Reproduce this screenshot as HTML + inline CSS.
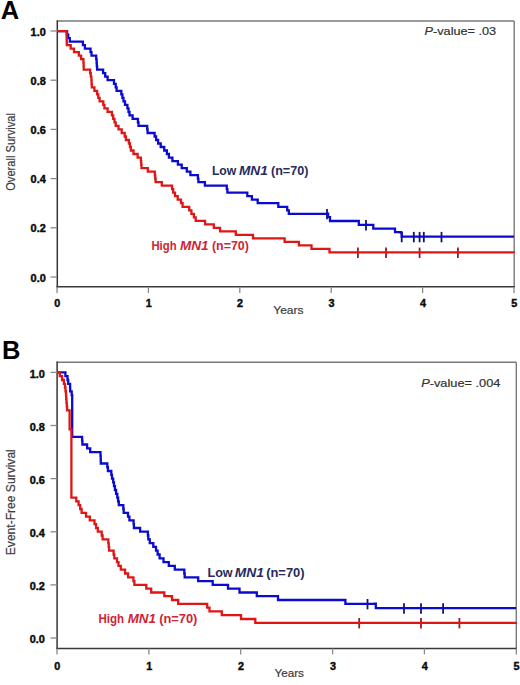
<!DOCTYPE html>
<html><head><meta charset="utf-8"><title>MN1 survival</title><style>
html,body{margin:0;padding:0;background:#fff;width:520px;height:685px;overflow:hidden}
svg{display:block}
text{font-family:"Liberation Sans",sans-serif}
.tl{font-size:10px;font-weight:bold;fill:#0a0a0a;stroke:#0a0a0a;stroke-width:0.4px}
.pl{font-size:25.5px;font-weight:bold;fill:#000}
.ax{font-size:11.5px;fill:#3c3c3c;stroke:#3c3c3c;stroke-width:0.2px}
.ay{font-size:12.4px}
.pv{font-size:11px;fill:#333;stroke:#333;stroke-width:0.2px}
.lg{font-size:12px;font-weight:bold}
</style></head><body>
<svg width="520" height="685" viewBox="0 0 520 685">
<rect width="520" height="685" fill="#fff"/>
<line x1="57.0" y1="21.0" x2="514.2" y2="21.0" stroke="#7a7a7a" stroke-width="1.4"/>
<line x1="514.2" y1="21.0" x2="514.2" y2="286.7" stroke="#7a7a7a" stroke-width="1.4"/>
<line x1="57.3" y1="20.3" x2="57.3" y2="287.4" stroke="#363636" stroke-width="1.5"/>
<line x1="56.5" y1="286.7" x2="514.9" y2="286.7" stroke="#3a3a3a" stroke-width="1.5"/>
<line x1="50.5" y1="277.0" x2="57.0" y2="277.0" stroke="#8a8a8a" stroke-width="1.3"/>
<text x="45.8" y="281.6" class="tl" text-anchor="end" textLength="15.2" lengthAdjust="spacingAndGlyphs">0.0</text>
<line x1="50.5" y1="227.8" x2="57.0" y2="227.8" stroke="#8a8a8a" stroke-width="1.3"/>
<text x="45.8" y="232.4" class="tl" text-anchor="end" textLength="15.2" lengthAdjust="spacingAndGlyphs">0.2</text>
<line x1="50.5" y1="178.6" x2="57.0" y2="178.6" stroke="#8a8a8a" stroke-width="1.3"/>
<text x="45.8" y="183.2" class="tl" text-anchor="end" textLength="15.2" lengthAdjust="spacingAndGlyphs">0.4</text>
<line x1="50.5" y1="129.4" x2="57.0" y2="129.4" stroke="#8a8a8a" stroke-width="1.3"/>
<text x="45.8" y="134.0" class="tl" text-anchor="end" textLength="15.2" lengthAdjust="spacingAndGlyphs">0.6</text>
<line x1="50.5" y1="80.2" x2="57.0" y2="80.2" stroke="#8a8a8a" stroke-width="1.3"/>
<text x="45.8" y="84.8" class="tl" text-anchor="end" textLength="15.2" lengthAdjust="spacingAndGlyphs">0.8</text>
<line x1="50.5" y1="31.0" x2="57.0" y2="31.0" stroke="#8a8a8a" stroke-width="1.3"/>
<text x="45.8" y="35.6" class="tl" text-anchor="end" textLength="15.2" lengthAdjust="spacingAndGlyphs">1.0</text>
<line x1="57.0" y1="287.0" x2="57.0" y2="293.0" stroke="#8a8a8a" stroke-width="1.3"/>
<text x="57.3" y="306.5" class="tl" text-anchor="middle" textLength="6.0" lengthAdjust="spacingAndGlyphs">0</text>
<line x1="148.4" y1="287.0" x2="148.4" y2="293.0" stroke="#8a8a8a" stroke-width="1.3"/>
<text x="148.7" y="306.5" class="tl" text-anchor="middle" textLength="6.0" lengthAdjust="spacingAndGlyphs">1</text>
<line x1="239.8" y1="287.0" x2="239.8" y2="293.0" stroke="#8a8a8a" stroke-width="1.3"/>
<text x="240.1" y="306.5" class="tl" text-anchor="middle" textLength="6.0" lengthAdjust="spacingAndGlyphs">2</text>
<line x1="331.2" y1="287.0" x2="331.2" y2="293.0" stroke="#8a8a8a" stroke-width="1.3"/>
<text x="331.5" y="306.5" class="tl" text-anchor="middle" textLength="6.0" lengthAdjust="spacingAndGlyphs">3</text>
<line x1="422.6" y1="287.0" x2="422.6" y2="293.0" stroke="#8a8a8a" stroke-width="1.3"/>
<text x="422.9" y="306.5" class="tl" text-anchor="middle" textLength="6.0" lengthAdjust="spacingAndGlyphs">4</text>
<line x1="514.0" y1="287.0" x2="514.0" y2="293.0" stroke="#8a8a8a" stroke-width="1.3"/>
<text x="514.3" y="306.5" class="tl" text-anchor="middle" textLength="6.0" lengthAdjust="spacingAndGlyphs">5</text>
<line x1="327.0" y1="208.9" x2="327.0" y2="219.3" stroke="#121275" stroke-width="1.8"/>
<line x1="366.0" y1="220.0" x2="366.0" y2="230.4" stroke="#121275" stroke-width="1.8"/>
<line x1="401.7" y1="231.9" x2="401.7" y2="242.3" stroke="#121275" stroke-width="1.8"/>
<line x1="413.8" y1="231.9" x2="413.8" y2="242.3" stroke="#121275" stroke-width="1.8"/>
<line x1="419.6" y1="231.9" x2="419.6" y2="242.3" stroke="#121275" stroke-width="1.8"/>
<line x1="423.8" y1="231.9" x2="423.8" y2="242.3" stroke="#121275" stroke-width="1.8"/>
<line x1="441.5" y1="231.9" x2="441.5" y2="242.3" stroke="#121275" stroke-width="1.8"/>
<path d="M57.0 31.1H67.1V34.6H68.2V38.1H69.8V41.6H82.9V45.1H84.9V48.6H90.5V52.1H91.5V55.6H96.2V59.2H96.6V62.7H96.8V66.2H97.1V69.7H103.1V73.2H105.2V76.7H107.6V80.2H114.0V83.8H115.7V87.3H116.6V90.8H121.3V94.3H122.4V97.8H123.5V101.3H125.0V104.8H127.4V108.4H128.5V111.9H129.5V115.4H132.6V118.9H137.9V122.4H138.5V125.9H147.2V129.4H147.6V133.0H154.6V136.5H156.1V140.0H158.1V143.5H160.7V147.0H164.2V150.5H166.9V154.0H168.9V157.6H172.4V161.1H177.9V164.6H181.7V168.1H186.8V171.6H190.4V175.1H197.9V178.6H198.4V182.2H204.9V185.7H226.8V189.2H227.4V192.7H247.3V196.2H251.9V199.7H257.7V203.2H278.3V206.8H287.2V210.3H288.8V213.8H327.1V213.7H328.1V217.1H330.0V221.0H357.9H358.8V224.8H372.3H373.3V228.7H394.0H395.0V232.1H400.8V232.7H401.7V236.7H514.0" fill="none" stroke="#0a0ad0" stroke-width="2.30"/>
<line x1="357.9" y1="247.6" x2="357.9" y2="258.0" stroke="#a8141e" stroke-width="1.8"/>
<line x1="386.0" y1="247.6" x2="386.0" y2="258.0" stroke="#a8141e" stroke-width="1.8"/>
<line x1="419.6" y1="247.6" x2="419.6" y2="258.0" stroke="#a8141e" stroke-width="1.8"/>
<line x1="457.9" y1="247.6" x2="457.9" y2="258.0" stroke="#a8141e" stroke-width="1.8"/>
<path d="M57.0 31.1H66.5V34.6H66.6V38.1H66.7V41.6H66.8V45.1H70.7V48.6H74.0V52.1H78.8V55.6H81.1V59.2H83.4V62.7H83.6V66.2H83.7V69.7H90.1V73.2H90.8V76.7H91.4V80.2H91.6V83.8H91.8V87.3H94.4V90.8H97.1V94.3H98.3V97.8H99.6V101.3H103.3V104.8H104.4V108.4H107.6V111.9H111.9V115.4H113.2V118.9H114.5V122.4H115.7V125.9H118.5V129.4H121.7V133.0H124.7V136.5H125.9V140.0H128.9V143.5H130.0V147.0H130.9V150.5H133.5V154.0H137.6V157.6H140.9V161.1H141.2V164.6H141.5V168.1H147.8V171.6H154.8V175.1H155.2V178.6H155.6V182.2H161.8V185.7H172.1V189.2H173.2V192.7H175.0V196.2H177.7V199.7H181.0V203.2H182.6V206.8H189.2V210.3H191.4V213.8H193.9V217.3H195.7V220.8H205.1V224.3H213.8V227.8H220.1V231.3H235.8V234.9H253.0V238.4H284.6V241.9H298.9V245.4H311.5V248.9H329.5V252.4H514.0V252.6" fill="none" stroke="#df1616" stroke-width="2.30"/>
<line x1="56.8" y1="362.2" x2="516.3" y2="362.2" stroke="#7a7a7a" stroke-width="1.4"/>
<line x1="516.3" y1="362.2" x2="516.3" y2="648.4" stroke="#7a7a7a" stroke-width="1.4"/>
<line x1="57.1" y1="361.5" x2="57.1" y2="649.1" stroke="#363636" stroke-width="1.5"/>
<line x1="56.3" y1="648.4" x2="517.0" y2="648.4" stroke="#3a3a3a" stroke-width="1.5"/>
<line x1="50.5" y1="638.0" x2="57.0" y2="638.0" stroke="#8a8a8a" stroke-width="1.3"/>
<text x="44.9" y="643.1" class="tl" text-anchor="end" textLength="15.2" lengthAdjust="spacingAndGlyphs">0.0</text>
<line x1="50.5" y1="584.9" x2="57.0" y2="584.9" stroke="#8a8a8a" stroke-width="1.3"/>
<text x="44.9" y="590.0" class="tl" text-anchor="end" textLength="15.2" lengthAdjust="spacingAndGlyphs">0.2</text>
<line x1="50.5" y1="531.8" x2="57.0" y2="531.8" stroke="#8a8a8a" stroke-width="1.3"/>
<text x="44.9" y="536.9" class="tl" text-anchor="end" textLength="15.2" lengthAdjust="spacingAndGlyphs">0.4</text>
<line x1="50.5" y1="478.6" x2="57.0" y2="478.6" stroke="#8a8a8a" stroke-width="1.3"/>
<text x="44.9" y="483.7" class="tl" text-anchor="end" textLength="15.2" lengthAdjust="spacingAndGlyphs">0.6</text>
<line x1="50.5" y1="425.5" x2="57.0" y2="425.5" stroke="#8a8a8a" stroke-width="1.3"/>
<text x="44.9" y="430.6" class="tl" text-anchor="end" textLength="15.2" lengthAdjust="spacingAndGlyphs">0.8</text>
<line x1="50.5" y1="372.4" x2="57.0" y2="372.4" stroke="#8a8a8a" stroke-width="1.3"/>
<text x="44.9" y="377.5" class="tl" text-anchor="end" textLength="15.2" lengthAdjust="spacingAndGlyphs">1.0</text>
<line x1="57.0" y1="648.4" x2="57.0" y2="654.4" stroke="#8a8a8a" stroke-width="1.3"/>
<text x="57.3" y="669.8" class="tl" text-anchor="middle" textLength="6.0" lengthAdjust="spacingAndGlyphs">0</text>
<line x1="148.9" y1="648.4" x2="148.9" y2="654.4" stroke="#8a8a8a" stroke-width="1.3"/>
<text x="149.2" y="669.8" class="tl" text-anchor="middle" textLength="6.0" lengthAdjust="spacingAndGlyphs">1</text>
<line x1="240.7" y1="648.4" x2="240.7" y2="654.4" stroke="#8a8a8a" stroke-width="1.3"/>
<text x="241.0" y="669.8" class="tl" text-anchor="middle" textLength="6.0" lengthAdjust="spacingAndGlyphs">2</text>
<line x1="332.6" y1="648.4" x2="332.6" y2="654.4" stroke="#8a8a8a" stroke-width="1.3"/>
<text x="332.9" y="669.8" class="tl" text-anchor="middle" textLength="6.0" lengthAdjust="spacingAndGlyphs">3</text>
<line x1="424.4" y1="648.4" x2="424.4" y2="654.4" stroke="#8a8a8a" stroke-width="1.3"/>
<text x="424.7" y="669.8" class="tl" text-anchor="middle" textLength="6.0" lengthAdjust="spacingAndGlyphs">4</text>
<line x1="516.3" y1="648.4" x2="516.3" y2="654.4" stroke="#8a8a8a" stroke-width="1.3"/>
<text x="516.6" y="669.8" class="tl" text-anchor="middle" textLength="6.0" lengthAdjust="spacingAndGlyphs">5</text>
<line x1="367.5" y1="599.0" x2="367.5" y2="609.4" stroke="#121275" stroke-width="1.8"/>
<line x1="404.0" y1="603.3" x2="404.0" y2="613.7" stroke="#121275" stroke-width="1.8"/>
<line x1="421.0" y1="603.3" x2="421.0" y2="613.7" stroke="#121275" stroke-width="1.8"/>
<line x1="443.1" y1="603.3" x2="443.1" y2="613.7" stroke="#121275" stroke-width="1.8"/>
<path d="M57.0 372.4H65.4V376.2H67.5V380.0H68.2V383.8H70.1V387.6H70.2V391.4H71.7V395.2H72.2V399.0V402.8V406.5V410.3V414.1V417.9V421.7V425.5V429.3V433.1V436.9H82.1V440.7H82.4V444.5H87.1V448.3H90.2V452.1H100.5V455.9H100.7V459.7H100.8V463.5H107.3V467.2H107.9V471.0H111.3V474.8H112.0V478.6H113.2V482.4H114.0V486.2H114.9V490.0H116.1V493.8H117.3V497.6H118.1V501.4H118.8V505.2H123.3V509.0H123.7V512.8H128.0V516.6H129.4V520.4H133.6V524.2H133.9V528.0H140.1V531.7H147.9V535.5H148.3V539.3H149.8V543.1H153.3V546.9H156.0V550.7H157.6V554.5H159.6V558.3H163.5V562.1H168.8V565.9H174.8V569.7H184.3V573.5H184.7V577.3H198.2V581.1H212.7V584.9H228.0V588.7H239.5V592.5H256.8V596.2H278.0V600.0H345.4V603.8H374.8V603.7H375.8V608.1H516.0" fill="none" stroke="#0a0ad0" stroke-width="2.30"/>
<line x1="359.2" y1="618.0" x2="359.2" y2="628.4" stroke="#a8141e" stroke-width="1.8"/>
<line x1="421.0" y1="618.0" x2="421.0" y2="628.4" stroke="#a8141e" stroke-width="1.8"/>
<line x1="459.4" y1="618.0" x2="459.4" y2="628.4" stroke="#a8141e" stroke-width="1.8"/>
<path d="M57.0 372.4H59.8V376.2H62.1V380.0H63.9V383.8H65.0V387.6H65.5V391.4H66.0V395.2H66.2V399.0H66.5V402.8H66.8V406.5H67.1V410.3H69.6V414.1V417.9V421.7V425.5V429.3H71.4V433.1V436.9V440.7V444.5V448.3V452.1V455.9V459.7V463.5V467.2V471.0V474.8V478.6V482.4V486.2V490.0V493.8V497.6H76.3V501.4H78.6V505.2H80.2V509.0H81.6V512.8H86.0V516.6H89.8V520.4H94.5V524.2H96.1V528.0H97.8V531.7H101.7V535.5H102.6V539.3H108.3V543.1H108.7V546.9H109.1V550.7H113.6V554.5H114.3V558.3H117.0V562.1H118.5V565.9H120.8V569.7H125.1V573.5H128.1V577.3H133.4V581.1H134.4V584.9H146.3V588.7H151.2V592.5H164.3V596.2H172.0V600.0H178.2V603.8H207.2V607.6H209.5V611.4H221.8V615.2H241.0V619.0H255.3V622.8H516.0V622.7" fill="none" stroke="#df1616" stroke-width="2.30"/><text x="211.92" y="175.0" class="lg" fill="#262c5e" textLength="24.40" lengthAdjust="spacingAndGlyphs">Low</text>
<text x="238.98" y="175.0" class="lg" fill="#262c5e" font-style="italic" textLength="28.92" lengthAdjust="spacingAndGlyphs">MN1</text>
<text x="270.94" y="175.0" class="lg" fill="#262c5e" textLength="37.44" lengthAdjust="spacingAndGlyphs">(n=70)</text>
<text x="151.44" y="249.8" class="lg" fill="#cf2434" textLength="25.14" lengthAdjust="spacingAndGlyphs">High</text>
<text x="179.94" y="249.8" class="lg" fill="#cf2434" font-style="italic" textLength="28.68" lengthAdjust="spacingAndGlyphs">MN1</text>
<text x="211.94" y="249.8" class="lg" fill="#cf2434" textLength="36.88" lengthAdjust="spacingAndGlyphs">(n=70)</text>
<text x="207.44" y="577.0" class="lg" fill="#262c5e" textLength="25.18" lengthAdjust="spacingAndGlyphs">Low</text>
<text x="234.72" y="577.0" class="lg" fill="#262c5e" font-style="italic" textLength="29.18" lengthAdjust="spacingAndGlyphs">MN1</text>
<text x="266.18" y="577.0" class="lg" fill="#262c5e" textLength="38.44" lengthAdjust="spacingAndGlyphs">(n=70)</text>
<text x="98.44" y="623.0" class="lg" fill="#cf2434" textLength="25.64" lengthAdjust="spacingAndGlyphs">High</text>
<text x="127.70" y="623.0" class="lg" fill="#cf2434" font-style="italic" textLength="28.14" lengthAdjust="spacingAndGlyphs">MN1</text>
<text x="159.20" y="623.0" class="lg" fill="#cf2434" textLength="38.14" lengthAdjust="spacingAndGlyphs">(n=70)</text>
<text x="0.8" y="19.0" class="pl">A</text>
<text x="1.9" y="358.5" class="pl">B</text>
<text x="288.4" y="314.2" class="ax" text-anchor="middle" textLength="30.3" lengthAdjust="spacingAndGlyphs">Years</text>
<text x="289.2" y="677.3" class="ax" text-anchor="middle" textLength="29.5" lengthAdjust="spacingAndGlyphs">Years</text>
<text transform="translate(14.9,151.9) rotate(-90)" class="ax ay" text-anchor="middle" textLength="77.8" lengthAdjust="spacingAndGlyphs">Overall Survival</text>
<text transform="translate(15.1,502.2) rotate(-90)" class="ax ay" text-anchor="middle" textLength="106" lengthAdjust="spacingAndGlyphs">Event-Free Survival</text>
<text x="424.6" y="34.6" class="pv" textLength="71.5" lengthAdjust="spacingAndGlyphs"><tspan font-style="italic">P</tspan>-value= .03</text>
<text x="421.2" y="387" class="pv" textLength="79.2" lengthAdjust="spacingAndGlyphs"><tspan font-style="italic">P</tspan>-value= .004</text>

</svg>
</body></html>
